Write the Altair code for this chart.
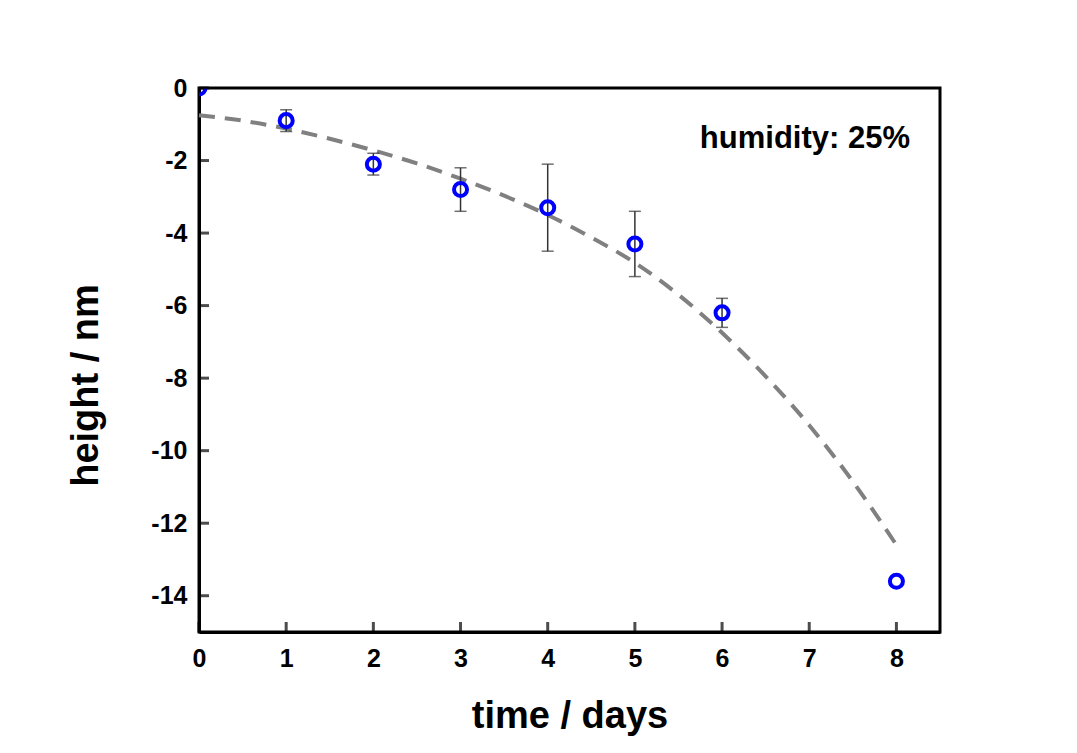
import altair as alt
import pandas as pd

# ---- data ----
days = [0, 1, 2, 3, 4, 5, 6, 8]
height = [0.0, -0.9, -2.1, -2.8, -3.3, -4.3, -6.2, -13.6]

err_days = [1, 2, 3, 4, 5, 6]
err_half = [0.3, 0.3, 0.6, 1.2, 0.9, 0.4]

fit_days = [0, 0.5, 1, 1.5, 2, 2.5, 3, 3.5, 4, 4.5, 5, 5.5, 6, 6.5, 7, 7.5, 8]
fit_height = [-0.75, -0.9, -1.12, -1.4, -1.72, -2.08, -2.5, -2.97, -3.5,
              -4.12, -4.82, -5.7, -6.75, -7.95, -9.3, -10.85, -12.6]

x_ticks = [0, 1, 2, 3, 4, 5, 6, 7, 8]
y_ticks = [-14, -12, -10, -8, -6, -4, -2, 0]
x_domain = [0, 8.5]
y_domain = [-15, 0]

x_title = "time / days"
y_title = "height / nm"
annotation = ["humidity: 25%"]

FONT = "Liberation Sans"

pts = pd.DataFrame({"x": days, "y": height})
fit = pd.DataFrame({"x": fit_days, "y": fit_height})
err_center = [height[days.index(d)] for d in err_days]
err = pd.DataFrame({
    "x": err_days,
    "lo": [h - e for h, e in zip(err_center, err_half)],
    "hi": [h + e for h, e in zip(err_center, err_half)],
})
caps = pd.DataFrame({
    "x": list(err["x"]) + list(err["x"]),
    "y": list(err["lo"]) + list(err["hi"]),
})
xt = pd.DataFrame({"x": x_ticks, "y": [y_domain[0]] * len(x_ticks)})
yt = pd.DataFrame({"x": [x_domain[0]] * len(y_ticks), "y": y_ticks})
ann = pd.DataFrame({"t": annotation})

xs = alt.Scale(domain=x_domain, nice=False, zero=False)
ys = alt.Scale(domain=y_domain, nice=False, zero=False)

x_axis = alt.Axis(values=x_ticks, title=x_title, labelPadding=14,
                  labelFlush=False,
                  titleBaseline="alphabetic", titleY=95,
                  labelExpr="'' + datum.value")
y_axis = alt.Axis(values=y_ticks, title=y_title, labelPadding=12,
                  labelFlush=False,
                  titleX=-94, titleY=297,
                  labelExpr="'' + datum.value")


def X(field="x"):
    return alt.X(f"{field}:Q", scale=xs, axis=x_axis)


def Y(field="y"):
    return alt.Y(f"{field}:Q", scale=ys, axis=y_axis)


fit_line = alt.Chart(fit).mark_line(
    color="#808080", strokeWidth=4, strokeDash=[16, 10], interpolate="monotone"
).encode(x=X(), y=Y())

err_rules = alt.Chart(err).mark_rule(color="#333333", strokeWidth=1.5).encode(
    x=X(), y=Y("lo"), y2="hi:Q"
)

err_caps = alt.Chart(caps).mark_tick(
    orient="horizontal", size=12, thickness=1.5, color="#333333"
).encode(x=X(), y=Y())

points = alt.Chart(pts).mark_point(
    shape="circle", filled=False, size=170, strokeWidth=4,
    color="#0000ff", clip=True, opacity=1
).encode(x=X(), y=Y())

x_tick_marks = alt.Chart(xt).mark_tick(
    orient="vertical", size=10, thickness=3, color="black", yOffset=-5
).encode(x=X(), y=Y())

y_tick_marks = alt.Chart(yt).mark_tick(
    orient="horizontal", size=10, thickness=3, color="black", xOffset=5
).encode(x=X(), y=Y())

label = alt.Chart(ann).mark_text(
    align="right", baseline="alphabetic", fontSize=31, fontWeight="bold",
    font=FONT, color="black"
).encode(text="t:N", x=alt.value(711), y=alt.value(60))

chart = alt.layer(
    fit_line, err_rules, err_caps, points, x_tick_marks, y_tick_marks, label
).properties(
    width=741, height=544,
    autosize=alt.AutoSizeParams(type="none"),
    padding={"left": 199, "top": 88, "right": 137, "bottom": 121},
    background="white",
).configure_view(
    stroke="black", strokeWidth=3
).configure_axis(
    domainColor="black", domainWidth=3, ticks=False, grid=False,
    labelFont=FONT, labelFontWeight="bold", labelFontSize=25, labelColor="black",
    titleFont=FONT, titleFontWeight="bold", titleFontSize=38, titleColor="black",
)

chart.save("out.html", embed_options={"renderer": "svg", "actions": False})
